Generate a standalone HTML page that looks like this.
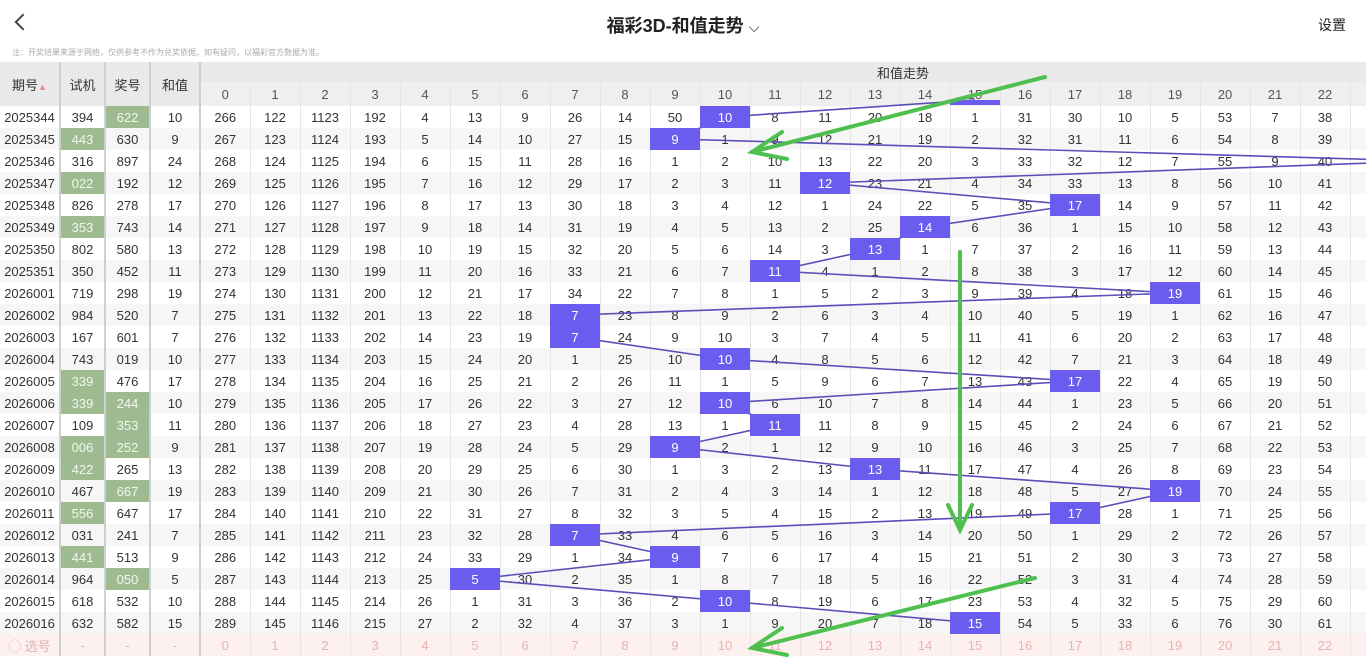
<!DOCTYPE html>
<html><head><meta charset="utf-8">
<style>
*{margin:0;padding:0;box-sizing:border-box}
body{width:1366px;height:658px;overflow:hidden;background:#fff;font-family:"Liberation Sans","Noto Sans CJK SC",sans-serif;color:#333;position:relative}
.top{position:absolute;left:0;top:0;width:1366px;height:46px;background:#fff}
.back{position:absolute;left:17px;top:16px;width:12px;height:12px;border-left:2px solid #444;border-bottom:2px solid #444;transform:rotate(45deg)}
.title{position:absolute;left:0;width:1366px;top:12px;text-align:center;font-size:18px;font-weight:bold;color:#222}
.set{position:absolute;right:20px;top:15px;font-size:14px;color:#222}
.note{position:absolute;left:12px;top:47px;font-size:8px;color:#aaa}
table{position:absolute;left:0;top:62px;border-collapse:collapse;table-layout:fixed;width:1366px;font-size:13px}
td{height:22px;text-align:center;border-right:1px solid #e6e6e6;padding:0;white-space:nowrap;overflow:hidden}
tr.o td{background:#f6f6f6}
tr.e td{background:#fff}
td.s{border-right:2px solid #cfcfcf}
td.g{background:#9dba91!important;color:#f2f7ee}
.h1 td{height:20px;background:#e9e9e9;font-size:13px}
.h2 td{height:24px;background:#efefef;font-size:13px;color:#555}
.hl{background:#e9e9e9!important;font-size:13px;color:#333}
tr.x td{background:#fdf1ef;color:#e6b3b3}
</style></head><body>
<div class="top"><div class="back"></div><div class="title">福彩3D-和值走势 <span style="font-weight:normal;font-size:14px">⌵</span></div><div class="set">设置</div></div>
<div class="note">注：开奖结果来源于网络，仅供参考不作为兑奖依据，如有疑问，以福彩官方数据为准。</div>
<table>
<colgroup><col style="width:60px"><col style="width:45px"><col style="width:45px"><col style="width:50px">
<col style="width:50px"><col style="width:50px"><col style="width:50px"><col style="width:50px"><col style="width:50px"><col style="width:50px"><col style="width:50px"><col style="width:50px"><col style="width:50px"><col style="width:50px"><col style="width:50px"><col style="width:50px"><col style="width:50px"><col style="width:50px"><col style="width:50px"><col style="width:50px"><col style="width:50px"><col style="width:50px"><col style="width:50px"><col style="width:50px"><col style="width:50px"><col style="width:50px"><col style="width:50px"><col style="width:16px"></colgroup>
<tr class="h1"><td rowspan="2" class="s hl">期号<span style="color:#e88;font-size:9px">▲</span></td><td rowspan="2" class="s hl">试机</td><td rowspan="2" class="s hl">奖号</td><td rowspan="2" class="s hl">和值</td><td colspan="24" style="text-align:left;padding-left:676px">和值走势</td></tr>
<tr class="h2"><td>0</td><td>1</td><td>2</td><td>3</td><td>4</td><td>5</td><td>6</td><td>7</td><td>8</td><td>9</td><td>10</td><td>11</td><td>12</td><td>13</td><td>14</td><td>15</td><td>16</td><td>17</td><td>18</td><td>19</td><td>20</td><td>21</td><td>22</td><td></td></tr>
<tr class="e"><td class="s">2025344</td><td class="s">394</td><td class="s g">622</td><td class="s">10</td><td>266</td><td>122</td><td>1123</td><td>192</td><td>4</td><td>13</td><td>9</td><td>26</td><td>14</td><td>50</td><td>10</td><td>8</td><td>11</td><td>20</td><td>18</td><td>1</td><td>31</td><td>30</td><td>10</td><td>5</td><td>53</td><td>7</td><td>38</td><td></td></tr>
<tr class="o"><td class="s">2025345</td><td class="s g">443</td><td class="s">630</td><td class="s">9</td><td>267</td><td>123</td><td>1124</td><td>193</td><td>5</td><td>14</td><td>10</td><td>27</td><td>15</td><td>9</td><td>1</td><td>9</td><td>12</td><td>21</td><td>19</td><td>2</td><td>32</td><td>31</td><td>11</td><td>6</td><td>54</td><td>8</td><td>39</td><td></td></tr>
<tr class="e"><td class="s">2025346</td><td class="s">316</td><td class="s">897</td><td class="s">24</td><td>268</td><td>124</td><td>1125</td><td>194</td><td>6</td><td>15</td><td>11</td><td>28</td><td>16</td><td>1</td><td>2</td><td>10</td><td>13</td><td>22</td><td>20</td><td>3</td><td>33</td><td>32</td><td>12</td><td>7</td><td>55</td><td>9</td><td>40</td><td></td></tr>
<tr class="o"><td class="s">2025347</td><td class="s g">022</td><td class="s">192</td><td class="s">12</td><td>269</td><td>125</td><td>1126</td><td>195</td><td>7</td><td>16</td><td>12</td><td>29</td><td>17</td><td>2</td><td>3</td><td>11</td><td>12</td><td>23</td><td>21</td><td>4</td><td>34</td><td>33</td><td>13</td><td>8</td><td>56</td><td>10</td><td>41</td><td></td></tr>
<tr class="e"><td class="s">2025348</td><td class="s">826</td><td class="s">278</td><td class="s">17</td><td>270</td><td>126</td><td>1127</td><td>196</td><td>8</td><td>17</td><td>13</td><td>30</td><td>18</td><td>3</td><td>4</td><td>12</td><td>1</td><td>24</td><td>22</td><td>5</td><td>35</td><td>17</td><td>14</td><td>9</td><td>57</td><td>11</td><td>42</td><td></td></tr>
<tr class="o"><td class="s">2025349</td><td class="s g">353</td><td class="s">743</td><td class="s">14</td><td>271</td><td>127</td><td>1128</td><td>197</td><td>9</td><td>18</td><td>14</td><td>31</td><td>19</td><td>4</td><td>5</td><td>13</td><td>2</td><td>25</td><td>14</td><td>6</td><td>36</td><td>1</td><td>15</td><td>10</td><td>58</td><td>12</td><td>43</td><td></td></tr>
<tr class="e"><td class="s">2025350</td><td class="s">802</td><td class="s">580</td><td class="s">13</td><td>272</td><td>128</td><td>1129</td><td>198</td><td>10</td><td>19</td><td>15</td><td>32</td><td>20</td><td>5</td><td>6</td><td>14</td><td>3</td><td>13</td><td>1</td><td>7</td><td>37</td><td>2</td><td>16</td><td>11</td><td>59</td><td>13</td><td>44</td><td></td></tr>
<tr class="o"><td class="s">2025351</td><td class="s">350</td><td class="s">452</td><td class="s">11</td><td>273</td><td>129</td><td>1130</td><td>199</td><td>11</td><td>20</td><td>16</td><td>33</td><td>21</td><td>6</td><td>7</td><td>11</td><td>4</td><td>1</td><td>2</td><td>8</td><td>38</td><td>3</td><td>17</td><td>12</td><td>60</td><td>14</td><td>45</td><td></td></tr>
<tr class="e"><td class="s">2026001</td><td class="s">719</td><td class="s">298</td><td class="s">19</td><td>274</td><td>130</td><td>1131</td><td>200</td><td>12</td><td>21</td><td>17</td><td>34</td><td>22</td><td>7</td><td>8</td><td>1</td><td>5</td><td>2</td><td>3</td><td>9</td><td>39</td><td>4</td><td>18</td><td>19</td><td>61</td><td>15</td><td>46</td><td></td></tr>
<tr class="o"><td class="s">2026002</td><td class="s">984</td><td class="s">520</td><td class="s">7</td><td>275</td><td>131</td><td>1132</td><td>201</td><td>13</td><td>22</td><td>18</td><td>7</td><td>23</td><td>8</td><td>9</td><td>2</td><td>6</td><td>3</td><td>4</td><td>10</td><td>40</td><td>5</td><td>19</td><td>1</td><td>62</td><td>16</td><td>47</td><td></td></tr>
<tr class="e"><td class="s">2026003</td><td class="s">167</td><td class="s">601</td><td class="s">7</td><td>276</td><td>132</td><td>1133</td><td>202</td><td>14</td><td>23</td><td>19</td><td>7</td><td>24</td><td>9</td><td>10</td><td>3</td><td>7</td><td>4</td><td>5</td><td>11</td><td>41</td><td>6</td><td>20</td><td>2</td><td>63</td><td>17</td><td>48</td><td></td></tr>
<tr class="o"><td class="s">2026004</td><td class="s">743</td><td class="s">019</td><td class="s">10</td><td>277</td><td>133</td><td>1134</td><td>203</td><td>15</td><td>24</td><td>20</td><td>1</td><td>25</td><td>10</td><td>10</td><td>4</td><td>8</td><td>5</td><td>6</td><td>12</td><td>42</td><td>7</td><td>21</td><td>3</td><td>64</td><td>18</td><td>49</td><td></td></tr>
<tr class="e"><td class="s">2026005</td><td class="s g">339</td><td class="s">476</td><td class="s">17</td><td>278</td><td>134</td><td>1135</td><td>204</td><td>16</td><td>25</td><td>21</td><td>2</td><td>26</td><td>11</td><td>1</td><td>5</td><td>9</td><td>6</td><td>7</td><td>13</td><td>43</td><td>17</td><td>22</td><td>4</td><td>65</td><td>19</td><td>50</td><td></td></tr>
<tr class="o"><td class="s">2026006</td><td class="s g">339</td><td class="s g">244</td><td class="s">10</td><td>279</td><td>135</td><td>1136</td><td>205</td><td>17</td><td>26</td><td>22</td><td>3</td><td>27</td><td>12</td><td>10</td><td>6</td><td>10</td><td>7</td><td>8</td><td>14</td><td>44</td><td>1</td><td>23</td><td>5</td><td>66</td><td>20</td><td>51</td><td></td></tr>
<tr class="e"><td class="s">2026007</td><td class="s">109</td><td class="s g">353</td><td class="s">11</td><td>280</td><td>136</td><td>1137</td><td>206</td><td>18</td><td>27</td><td>23</td><td>4</td><td>28</td><td>13</td><td>1</td><td>11</td><td>11</td><td>8</td><td>9</td><td>15</td><td>45</td><td>2</td><td>24</td><td>6</td><td>67</td><td>21</td><td>52</td><td></td></tr>
<tr class="o"><td class="s">2026008</td><td class="s g">006</td><td class="s g">252</td><td class="s">9</td><td>281</td><td>137</td><td>1138</td><td>207</td><td>19</td><td>28</td><td>24</td><td>5</td><td>29</td><td>9</td><td>2</td><td>1</td><td>12</td><td>9</td><td>10</td><td>16</td><td>46</td><td>3</td><td>25</td><td>7</td><td>68</td><td>22</td><td>53</td><td></td></tr>
<tr class="e"><td class="s">2026009</td><td class="s g">422</td><td class="s">265</td><td class="s">13</td><td>282</td><td>138</td><td>1139</td><td>208</td><td>20</td><td>29</td><td>25</td><td>6</td><td>30</td><td>1</td><td>3</td><td>2</td><td>13</td><td>13</td><td>11</td><td>17</td><td>47</td><td>4</td><td>26</td><td>8</td><td>69</td><td>23</td><td>54</td><td></td></tr>
<tr class="o"><td class="s">2026010</td><td class="s">467</td><td class="s g">667</td><td class="s">19</td><td>283</td><td>139</td><td>1140</td><td>209</td><td>21</td><td>30</td><td>26</td><td>7</td><td>31</td><td>2</td><td>4</td><td>3</td><td>14</td><td>1</td><td>12</td><td>18</td><td>48</td><td>5</td><td>27</td><td>19</td><td>70</td><td>24</td><td>55</td><td></td></tr>
<tr class="e"><td class="s">2026011</td><td class="s g">556</td><td class="s">647</td><td class="s">17</td><td>284</td><td>140</td><td>1141</td><td>210</td><td>22</td><td>31</td><td>27</td><td>8</td><td>32</td><td>3</td><td>5</td><td>4</td><td>15</td><td>2</td><td>13</td><td>19</td><td>49</td><td>17</td><td>28</td><td>1</td><td>71</td><td>25</td><td>56</td><td></td></tr>
<tr class="o"><td class="s">2026012</td><td class="s">031</td><td class="s">241</td><td class="s">7</td><td>285</td><td>141</td><td>1142</td><td>211</td><td>23</td><td>32</td><td>28</td><td>7</td><td>33</td><td>4</td><td>6</td><td>5</td><td>16</td><td>3</td><td>14</td><td>20</td><td>50</td><td>1</td><td>29</td><td>2</td><td>72</td><td>26</td><td>57</td><td></td></tr>
<tr class="e"><td class="s">2026013</td><td class="s g">441</td><td class="s">513</td><td class="s">9</td><td>286</td><td>142</td><td>1143</td><td>212</td><td>24</td><td>33</td><td>29</td><td>1</td><td>34</td><td>9</td><td>7</td><td>6</td><td>17</td><td>4</td><td>15</td><td>21</td><td>51</td><td>2</td><td>30</td><td>3</td><td>73</td><td>27</td><td>58</td><td></td></tr>
<tr class="o"><td class="s">2026014</td><td class="s">964</td><td class="s g">050</td><td class="s">5</td><td>287</td><td>143</td><td>1144</td><td>213</td><td>25</td><td>5</td><td>30</td><td>2</td><td>35</td><td>1</td><td>8</td><td>7</td><td>18</td><td>5</td><td>16</td><td>22</td><td>52</td><td>3</td><td>31</td><td>4</td><td>74</td><td>28</td><td>59</td><td></td></tr>
<tr class="e"><td class="s">2026015</td><td class="s">618</td><td class="s">532</td><td class="s">10</td><td>288</td><td>144</td><td>1145</td><td>214</td><td>26</td><td>1</td><td>31</td><td>3</td><td>36</td><td>2</td><td>10</td><td>8</td><td>19</td><td>6</td><td>17</td><td>23</td><td>53</td><td>4</td><td>32</td><td>5</td><td>75</td><td>29</td><td>60</td><td></td></tr>
<tr class="o"><td class="s">2026016</td><td class="s">632</td><td class="s">582</td><td class="s">15</td><td>289</td><td>145</td><td>1146</td><td>215</td><td>27</td><td>2</td><td>32</td><td>4</td><td>37</td><td>3</td><td>1</td><td>9</td><td>20</td><td>7</td><td>18</td><td>15</td><td>54</td><td>5</td><td>33</td><td>6</td><td>76</td><td>30</td><td>61</td><td></td></tr>
<tr class="x"><td class="s">◯ 选号</td><td class="s">-</td><td class="s">-</td><td class="s">-</td><td>0</td><td>1</td><td>2</td><td>3</td><td>4</td><td>5</td><td>6</td><td>7</td><td>8</td><td>9</td><td>10</td><td>11</td><td>12</td><td>13</td><td>14</td><td>15</td><td>16</td><td>17</td><td>18</td><td>19</td><td>20</td><td>21</td><td>22</td><td></td></tr>
</table>
<svg width="1366" height="658" style="position:absolute;left:0;top:0" font-family="Liberation Sans, sans-serif" font-size="13">
<polyline fill="none" stroke="#5a4fb8" stroke-width="1.6" points="975,100 725,117 675,139 1425,161 825,183 1075,205 925,227 875,249 775,271 1175,293 575,315 575,337 725,359 1075,381 725,403 775,425 675,447 875,469 1175,491 1075,513 575,535 675,557 475,579 725,601 975,623"/>
<g fill="#6b5cf0">
<rect x="950" y="100" width="50" height="5"/>
<rect x="700" y="106" width="50" height="22"/><rect x="650" y="128" width="50" height="22"/><rect x="800" y="172" width="50" height="22"/><rect x="1050" y="194" width="50" height="22"/><rect x="900" y="216" width="50" height="22"/><rect x="850" y="238" width="50" height="22"/><rect x="750" y="260" width="50" height="22"/><rect x="1150" y="282" width="50" height="22"/><rect x="550" y="304" width="50" height="22"/><rect x="550" y="326" width="50" height="22"/><rect x="700" y="348" width="50" height="22"/><rect x="1050" y="370" width="50" height="22"/><rect x="700" y="392" width="50" height="22"/><rect x="750" y="414" width="50" height="22"/><rect x="650" y="436" width="50" height="22"/><rect x="850" y="458" width="50" height="22"/><rect x="1150" y="480" width="50" height="22"/><rect x="1050" y="502" width="50" height="22"/><rect x="550" y="524" width="50" height="22"/><rect x="650" y="546" width="50" height="22"/><rect x="450" y="568" width="50" height="22"/><rect x="700" y="590" width="50" height="22"/><rect x="950" y="612" width="50" height="22"/>
</g>
<g fill="#fff" text-anchor="middle">
<text x="725" y="122">10</text><text x="675" y="144">9</text><text x="825" y="188">12</text><text x="1075" y="210">17</text><text x="925" y="232">14</text><text x="875" y="254">13</text><text x="775" y="276">11</text><text x="1175" y="298">19</text><text x="575" y="320">7</text><text x="575" y="342">7</text><text x="725" y="364">10</text><text x="1075" y="386">17</text><text x="725" y="408">10</text><text x="775" y="430">11</text><text x="675" y="452">9</text><text x="875" y="474">13</text><text x="1175" y="496">19</text><text x="1075" y="518">17</text><text x="575" y="540">7</text><text x="675" y="562">9</text><text x="475" y="584">5</text><text x="725" y="606">10</text><text x="975" y="628">15</text>
</g>
<g stroke="#4fc04f" stroke-width="4" fill="none" stroke-linecap="round">
<line x1="1045" y1="77" x2="752" y2="152"/><polyline points="782,132 752,152 787,159"/>
<line x1="960" y1="252" x2="960" y2="530"/><polyline points="948,505 960,530 972,505"/>
<line x1="1035" y1="578" x2="752" y2="648"/><polyline points="782,628 752,648 787,655"/>
</g>
</svg>
</body></html>
